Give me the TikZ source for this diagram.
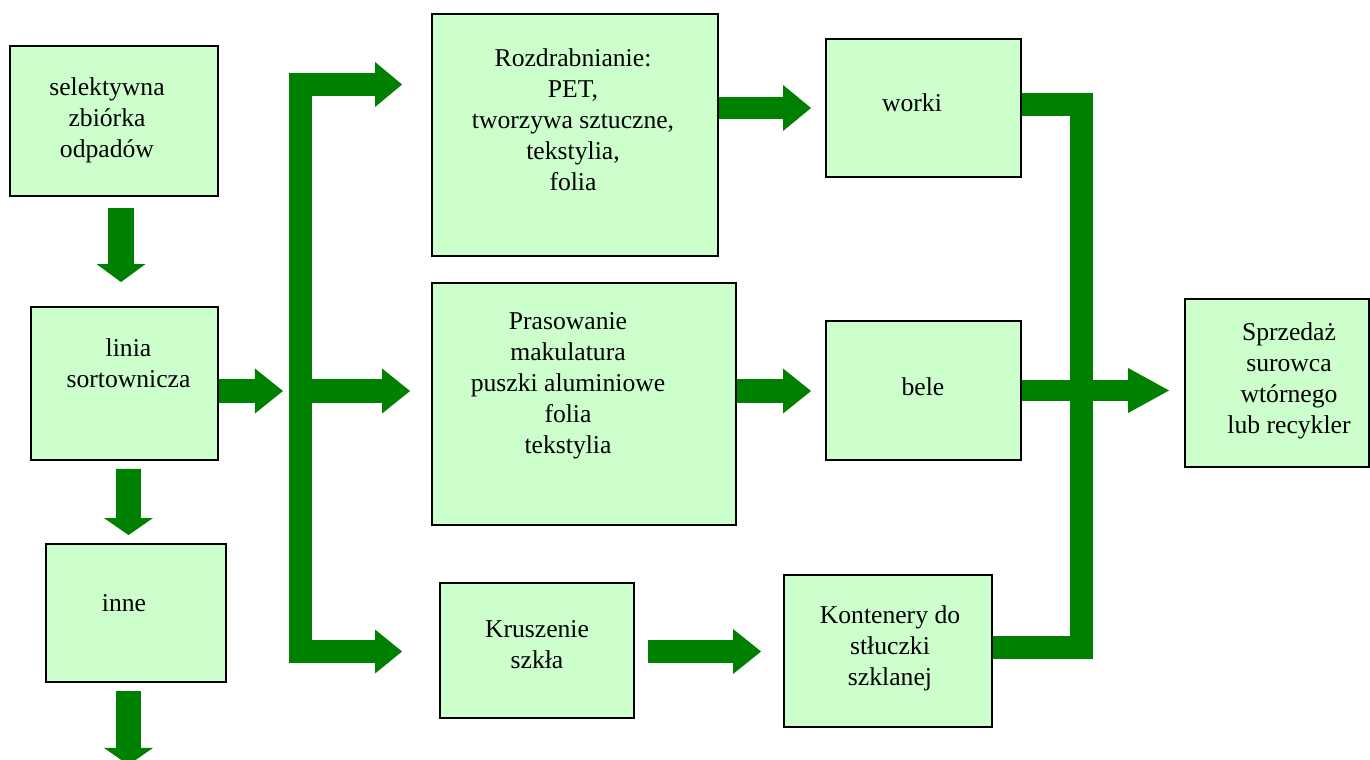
\documentclass[tikz,border=0pt]{standalone}
\usepackage{fontspec}
\setmainfont{Liberation Serif}
\usetikzlibrary{arrows.meta,backgrounds,calc}
\definecolor{boxfill}{HTML}{CCFFCC}
\definecolor{arrgreen}{HTML}{008000}
\begin{document}
\begin{tikzpicture}[x=0.02cm,y=-0.02cm,
  box/.style={draw=black, line width=1.1pt, fill=boxfill, inner sep=0pt, rectangle},
  txt/.style={align=center, font=\fontsize{14.6}{17.6}\selectfont, inner sep=0pt, text=black},
  garrow/.style n args={3}{draw=arrgreen, line width=#1, line join=miter, line cap=butt,
     -{Triangle[length=#2, width=#3, line width=0pt]}},
  gline/.style={draw=arrgreen, line width=#1, line join=miter, line cap=butt},
]
\useasboundingbox (0,0) rectangle (1370,760);

% boxes
\node[box, minimum width=4.16cm, minimum height=3.0cm]  (sel)   at (114,121) {};
\node[box, minimum width=3.74cm, minimum height=3.06cm] (lin)   at (124.5,383.5) {};
\node[box, minimum width=3.6cm,  minimum height=2.76cm] (inne)  at (136,613) {};
\node[box, minimum width=5.72cm, minimum height=4.84cm] (rozd)  at (575,135) {};
\node[box, minimum width=6.08cm, minimum height=4.84cm] (pras)  at (584,404) {};
\node[box, minimum width=3.88cm, minimum height=2.7cm]  (krus)  at (537,650.5) {};
\node[box, minimum width=3.9cm,  minimum height=2.76cm] (worki) at (923.5,108) {};
\node[box, minimum width=3.9cm,  minimum height=2.78cm] (bele)  at (923.5,390.5) {};
\node[box, minimum width=4.16cm, minimum height=3.04cm] (kont)  at (888,651) {};
\node[box, minimum width=3.68cm, minimum height=3.36cm] (sprz)  at (1277,383) {};

% texts
\node[txt] (selT)   at (107,120)  {selektywna\\zbiórka\\odpadów};
\node[txt] (linT)   at (128.5,363) {linia\\sortownicza};
\node[txt] (inneT)  at (124,603)  {inne};
\node[txt] (rozdT)  at (573,120)  {Rozdrabnianie:\\PET,\\tworzywa sztuczne,\\tekstylia,\\folia};
\node[txt] (prasT)  at (568,386)  {Prasowanie\\makulatura\\puszki aluminiowe\\folia\\tekstylia};
\node[txt] (krusT)  at (537,645)  {Kruszenie\\szkła};
\node[txt] (workiT) at (912,103)  {worki};
\node[txt] (beleT)  at (923,387)  {bele};
\node[txt] (kontT)  at (890,648)  {Kontenery do\\stłuczki\\szklanej};
\node[txt] (sprzT)  at (1289,381) {Sprzedaż\\surowca\\wtórnego\\lub recykler};

% free ends / junctions
\coordinate (bus)   at (300.5,400);
\coordinate (rbar)  at (1081,400);
\coordinate (out)   at ([shift={(-7.5,82)}]inne.south);
\coordinate (linTip) at ([shift={(64,7.5)}]lin.east);
\coordinate (prasTip) at ([shift={(-21,-13)}]pras.west);

\begin{scope}[on background layer]
  \draw[garrow={0.52cm}{0.36cm}{0.98cm}] ([shift={(7,11)}]sel.south) -- ([shift={(-3.5,-24)}]lin.north);
  \draw[garrow={0.5cm}{0.34cm}{0.98cm}] ([shift={(4,8)}]lin.south) -- ([shift={(-7.5,-8)}]inne.north);
  \draw[garrow={0.5cm}{0.34cm}{0.98cm}] ([shift={(-7.5,8)}]inne.south) -- (out);
  \draw[garrow={0.48cm}{0.56cm}{0.9cm}] ([shift={(0,7.5)}]lin.east) -- (linTip);
  % distribution bus
  \draw[garrow={0.46cm}{0.54cm}{0.9cm}] (bus) |- ([shift={(-29,-50.5)}]rozd.west);
  \draw[garrow={0.48cm}{0.56cm}{0.9cm}] (bus |- prasTip) -- (prasTip);
  \draw[garrow={0.46cm}{0.54cm}{0.88cm}] (bus) |- ([shift={(-37,1)}]krus.west);
  % processes to products
  \draw[garrow={0.44cm}{0.56cm}{0.92cm}] ([shift={(0,-27)}]rozd.east) -- ([shift={(-14,0)}]worki.west);
  \draw[garrow={0.48cm}{0.56cm}{0.9cm}] ([shift={(0,-13)}]pras.east) -- ([shift={(-14,0.5)}]bele.west);
  \draw[garrow={0.46cm}{0.56cm}{0.9cm}] ([shift={(13,1)}]krus.east) -- ([shift={(-22,0.5)}]kont.west);
  % collector to sale
  \draw[gline=0.46cm] ([shift={(0,-3.5)}]worki.east) -| (rbar) |- ([shift={(0,-4)}]kont.east);
  \draw[garrow={0.42cm}{0.82cm}{0.9cm}] (bele.east) -- ([shift={(-15,7.5)}]sprz.west);
\end{scope}
\end{tikzpicture}
\end{document}
